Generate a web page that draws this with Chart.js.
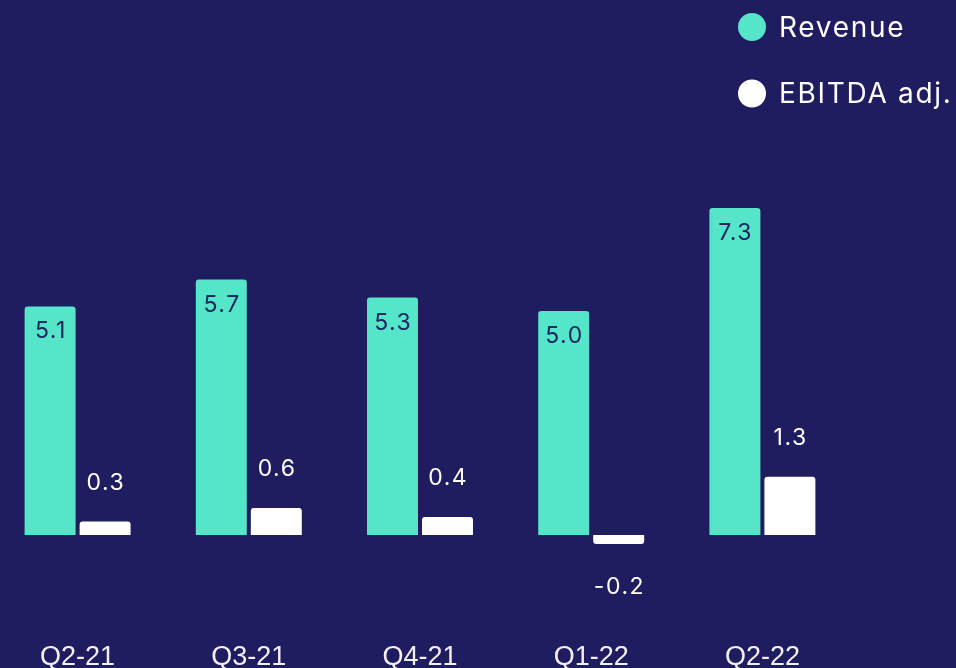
<!DOCTYPE html>
<html>
<head>
<meta charset="utf-8">
<script src="https://cdn.jsdelivr.net/npm/chart.js@4"></script>
<style>
  html, body { margin: 0; padding: 0; background: #1f1c5f; overflow: hidden; }
  #outer { width: 956px; height: 668px; position: relative; overflow: hidden; }
  #wrap { width: 964px; height: 674px; position: absolute; left: -8px; top: 0; }
</style>
</head>
<body>
<div id="outer"><div id="wrap"><canvas id="c"></canvas></div></div>
<script>
const categories = ['Q2-21', 'Q3-21', 'Q4-21', 'Q1-22', 'Q2-22'];
const revenue = [5.1, 5.7, 5.3, 5.0, 7.3];
const ebitdaAdj = [0.3, 0.6, 0.4, -0.2, 1.3];
const seriesNames = ['Revenue', 'EBITDA adj.'];

const BG = '#1f1c5f';
const TEAL = '#55e5c9';
const WHITE = '#ffffff';
const DARK_TEXT = '#1d2660';
const SHIFT = 8; // canvas is offset left by this many px

const bgPlugin = {
  id: 'bg',
  beforeDraw(chart) {
    const ctx = chart.ctx;
    ctx.save();
    ctx.fillStyle = BG;
    ctx.fillRect(0, 0, chart.width, chart.height);
    ctx.restore();
  }
};

const valueLabels = {
  id: 'valueLabels',
  afterDatasetsDraw(chart) {
    const ctx = chart.ctx;
    ctx.save();
    ctx.font = '23px Inter';
    ctx.letterSpacing = '1.5px';
    ctx.textAlign = 'center';
    ctx.textBaseline = 'alphabetic';
    chart.data.datasets.forEach((ds, di) => {
      const meta = chart.getDatasetMeta(di);
      meta.data.forEach((bar, i) => {
        const v = ds.data[i];
        const txt = v.toFixed(1);
        const x = bar.x + 0.75;
        if (di === 0) {
          ctx.fillStyle = DARK_TEXT;
          ctx.fillText(txt, x, bar.y + 32);
        } else {
          ctx.fillStyle = WHITE;
          if (v >= 0) ctx.fillText(txt, x, bar.y - 32);
          else ctx.fillText(txt, x, bar.y + 50);
        }
      });
    });
    ctx.restore();
  }
};

const legendPlugin = {
  id: 'customLegend',
  afterDraw(chart) {
    const ctx = chart.ctx;
    ctx.save();
    ctx.font = '28px Inter';
    ctx.letterSpacing = '1.7px';
    ctx.textBaseline = 'alphabetic';
    ctx.textAlign = 'left';
    const rows = [27, 93.5];
    chart.data.datasets.forEach((ds, di) => {
      const cy = rows[di];
      ctx.fillStyle = ds.backgroundColor;
      ctx.beginPath();
      ctx.arc(752 + SHIFT, cy, 14, 0, Math.PI * 2);
      ctx.fill();
      ctx.fillStyle = WHITE;
      ctx.fillText(ds.label, 779 + SHIFT, cy + 9.5);
    });
    ctx.restore();
  }
};

new Chart(document.getElementById('c'), {
  type: 'bar',
  data: {
    labels: categories,
    datasets: [
      { label: seriesNames[0], data: revenue, backgroundColor: TEAL, borderRadius: 3, borderSkipped: 'start' },
      { label: seriesNames[1], data: ebitdaAdj, backgroundColor: WHITE, borderRadius: 3, borderSkipped: 'start' }
    ]
  },
  options: {
    responsive: true,
    maintainAspectRatio: false,
    animation: false,
    datasets: { bar: { categoryPercentage: 0.6425, barPercentage: 0.927 } },
    layout: { padding: { left: 0, right: 108, top: 0, bottom: 0 } },
    plugins: { legend: { display: false }, tooltip: { enabled: false } },
    scales: {
      x: {
        grid: { display: false, drawTicks: false },
        border: { display: false },
        ticks: { color: '#f0f0f5', font: { family: 'Liberation Sans', size: 27 }, padding: 0, maxRotation: 0 }
      },
      y: {
        display: false,
        min: -2.38,
        max: 11.94
      }
    }
  },
  plugins: [bgPlugin, valueLabels, legendPlugin]
});
</script>
</body>
</html>
